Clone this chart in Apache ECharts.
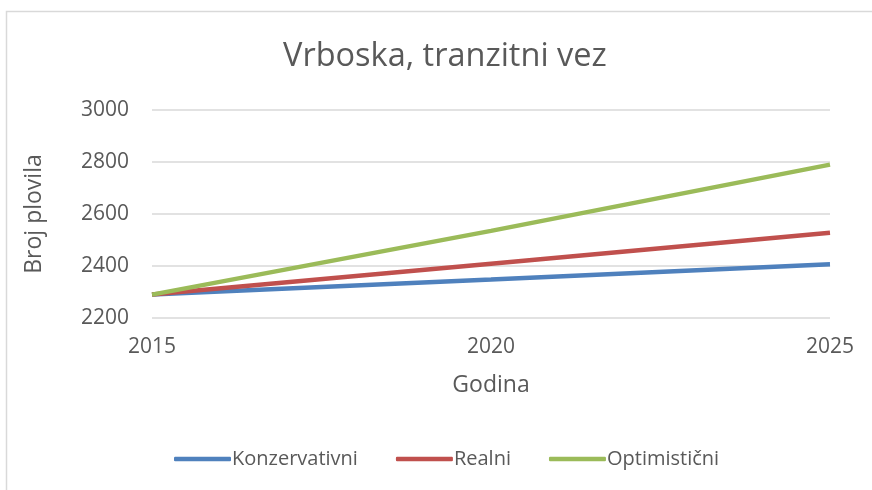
<!DOCTYPE html>
<html lang="hr">
<head>
<meta charset="UTF-8">
<title>Vrboska, tranzitni vez</title>
<script src="https://cdn.jsdelivr.net/npm/echarts@6/dist/echarts.min.js"></script>
<style>
    html, body { margin: 0; padding: 0; background: #ffffff; }
    #container { width: 872px; height: 490px; }
</style>
</head>
<body>
<div id="container"></div>
<script>
    // podaci s grafa
    var years = [2015, 2020, 2025];
    var konzervativni = [2290, 2348, 2407];
    var realni = [2290, 2409, 2528];
    var optimisticni = [2290, 2535, 2790];
    var seriesNames = ['Konzervativni', 'Realni', 'Optimistični'];

    function pairs(vals) {
        var out = [];
        for (var i = 0; i < years.length; i++) {
            out.push([years[i], vals[i]]);
        }
        return out;
    }

    var chart = echarts.init(document.getElementById('container'));
    var textColor = '#595959';
    var font = 'Open Sans';

    var lineSeries = function (name, vals) {
        return {
            name: name,
            type: 'line',
            data: pairs(vals),
            symbol: 'none',
            lineStyle: { width: 4.5 }
        };
    };

    var option = {
        backgroundColor: '#ffffff',
        color: ['#4f81bd', '#c0504d', '#9bbb59'],
        textStyle: { fontFamily: font },
        animation: false,
        graphic: [{
            type: 'rect',
            shape: { x: 6.5, y: 11.5, width: 900, height: 500 },
            style: { fill: 'none', stroke: '#d9d9d9', lineWidth: 1.5 }
        }],
        title: {
            text: 'Vrboska, tranzitni vez',
            left: 278,
            top: 35,
            textStyle: { color: textColor, fontSize: 32.5, fontWeight: 'normal', fontFamily: font }
        },
        grid: { left: 152, right: 42, top: 110, bottom: 172 },
        legend: {
            bottom: 16,
            left: 169,
            itemWidth: 57,
            itemHeight: 4.5,
            itemGap: 38,
            icon: 'roundRect',
            data: seriesNames,
            textStyle: { color: textColor, fontSize: 20, fontFamily: font, padding: [0, 0, 0, -4] }
        },
        xAxis: {
            type: 'value',
            min: 2015,
            max: 2025,
            interval: 5,
            name: 'Godina',
            nameLocation: 'middle',
            nameGap: 56,
            nameTextStyle: { color: textColor, fontSize: 23, fontFamily: font },
            axisLine: { show: false },
            axisTick: { show: false },
            splitLine: { show: false },
            axisLabel: { color: textColor, fontSize: 21, margin: 19, fontFamily: font, formatter: function (v) { return String(v); } }
        },
        yAxis: {
            type: 'value',
            min: 2200,
            max: 3000,
            interval: 200,
            name: 'Broj plovila',
            nameLocation: 'middle',
            nameGap: 106,
            nameTextStyle: { color: textColor, fontSize: 23, fontFamily: font },
            axisLine: { show: false },
            axisTick: { show: false },
            splitLine: { lineStyle: { color: '#d9d9d9', width: 1.5 } },
            axisLabel: { color: textColor, fontSize: 21, margin: 23, fontFamily: font, formatter: function (v) { return String(v); } }
        },
        series: [
            lineSeries(seriesNames[0], konzervativni),
            lineSeries(seriesNames[1], realni),
            lineSeries(seriesNames[2], optimisticni)
        ]
    };

    chart.setOption(option);
</script>
</body>
</html>
